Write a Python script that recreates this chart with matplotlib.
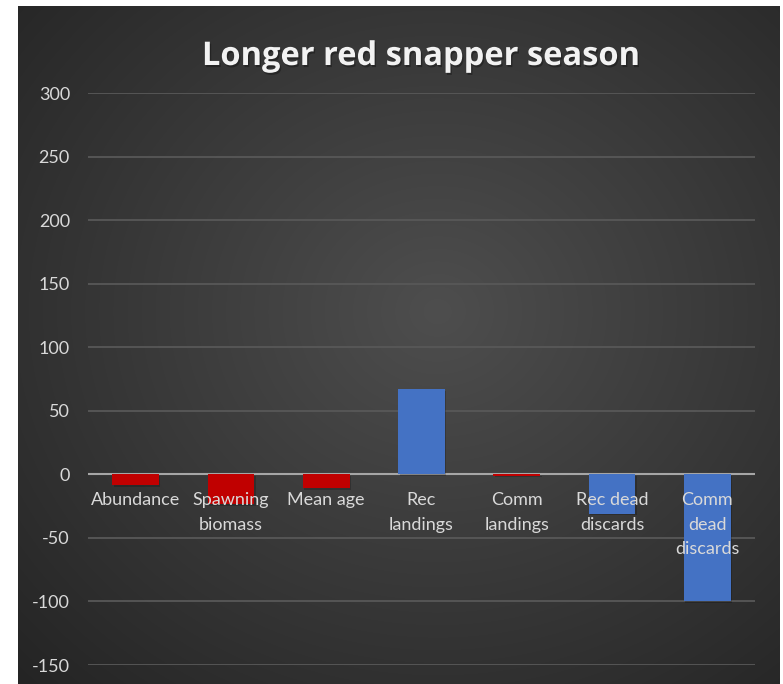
import matplotlib.pyplot as plt
import matplotlib.patheffects as pe
import numpy as np

categories = ['Abundance', 'Spawning\nbiomass', 'Mean age', 'Rec\nlandings',
              'Comm\nlandings', 'Rec dead\ndiscards', 'Comm\ndead\ndiscards']
changes = [-8.5, -23.5, -11, 67, -1, -31, -100]
bar_colors = ['#C00000', '#C00000', '#C00000', '#4472C4',
              '#C00000', '#4472C4', '#4472C4']
yticks = [-150, -100, -50, 0, 50, 100, 150, 200, 250, 300]

plt.rcParams['font.family'] = ['Lato', 'DejaVu Sans']
plt.rcParams['axes.unicode_minus'] = False

W, H = 783, 684
fig = plt.figure(figsize=(W / 100, H / 100), dpi=100)
fig.patch.set_facecolor('white')

# dark chart area with a soft radial glow in the middle
bw, bh = 762, 678
bg = fig.add_axes([18 / W, 0, bw / W, bh / H])
yy, xx = np.mgrid[0:bh, 0:bw]
r = np.hypot((xx - bw * 0.55) / bw, (yy - bh * 0.45) / bh)
r = r / r.max()
shade = (78 - 42 * r) / 255
bg.imshow(np.dstack([shade] * 3), aspect='auto', interpolation='bilinear')
bg.axis('off')

ax = fig.add_axes([88 / W, 19 / H, 667 / W, 572 / H])
ax.patch.set_alpha(0)
x = np.arange(len(categories))
bars = ax.bar(x, changes, width=0.49, color=bar_colors, zorder=3)
for b in bars:
    b.set_path_effects([pe.SimplePatchShadow(offset=(1, -1), shadow_rgbFace='black', alpha=0.2),
                        pe.Normal()])

ax.set_xlim(-0.5, len(categories) - 0.5)
ax.set_ylim(-150, 300)
ax.set_yticks(yticks)
ax.set_xticks([])
ax.grid(axis='y', color='#585858', lw=1.3, zorder=1)
ax.axhline(0, color='#a6a6a6', lw=1.5, zorder=2)
for s in ax.spines.values():
    s.set_visible(False)
ax.tick_params(axis='y', length=0, pad=13, labelcolor='#d9d9d9', labelsize=13)

# category labels sit right under the zero line
for i, name in enumerate(categories):
    ax.annotate(name, (i, 0), xytext=(0, -13), textcoords='offset points',
                ha='center', va='top', color='#d9d9d9', fontsize=13,
                linespacing=1.65, zorder=5)

title = fig.text(421 / W, 1 - 65 / H, 'Longer red snapper season', ha='center', va='baseline',
                 fontsize=23.5, fontweight='bold', color='#f2f2f2',
                 family=['Open Sans', 'DejaVu Sans'])
title.set_path_effects([pe.withSimplePatchShadow(offset=(1, -1.5), shadow_rgbFace='black', alpha=0.3)])

fig.savefig('out.png', dpi=100)
